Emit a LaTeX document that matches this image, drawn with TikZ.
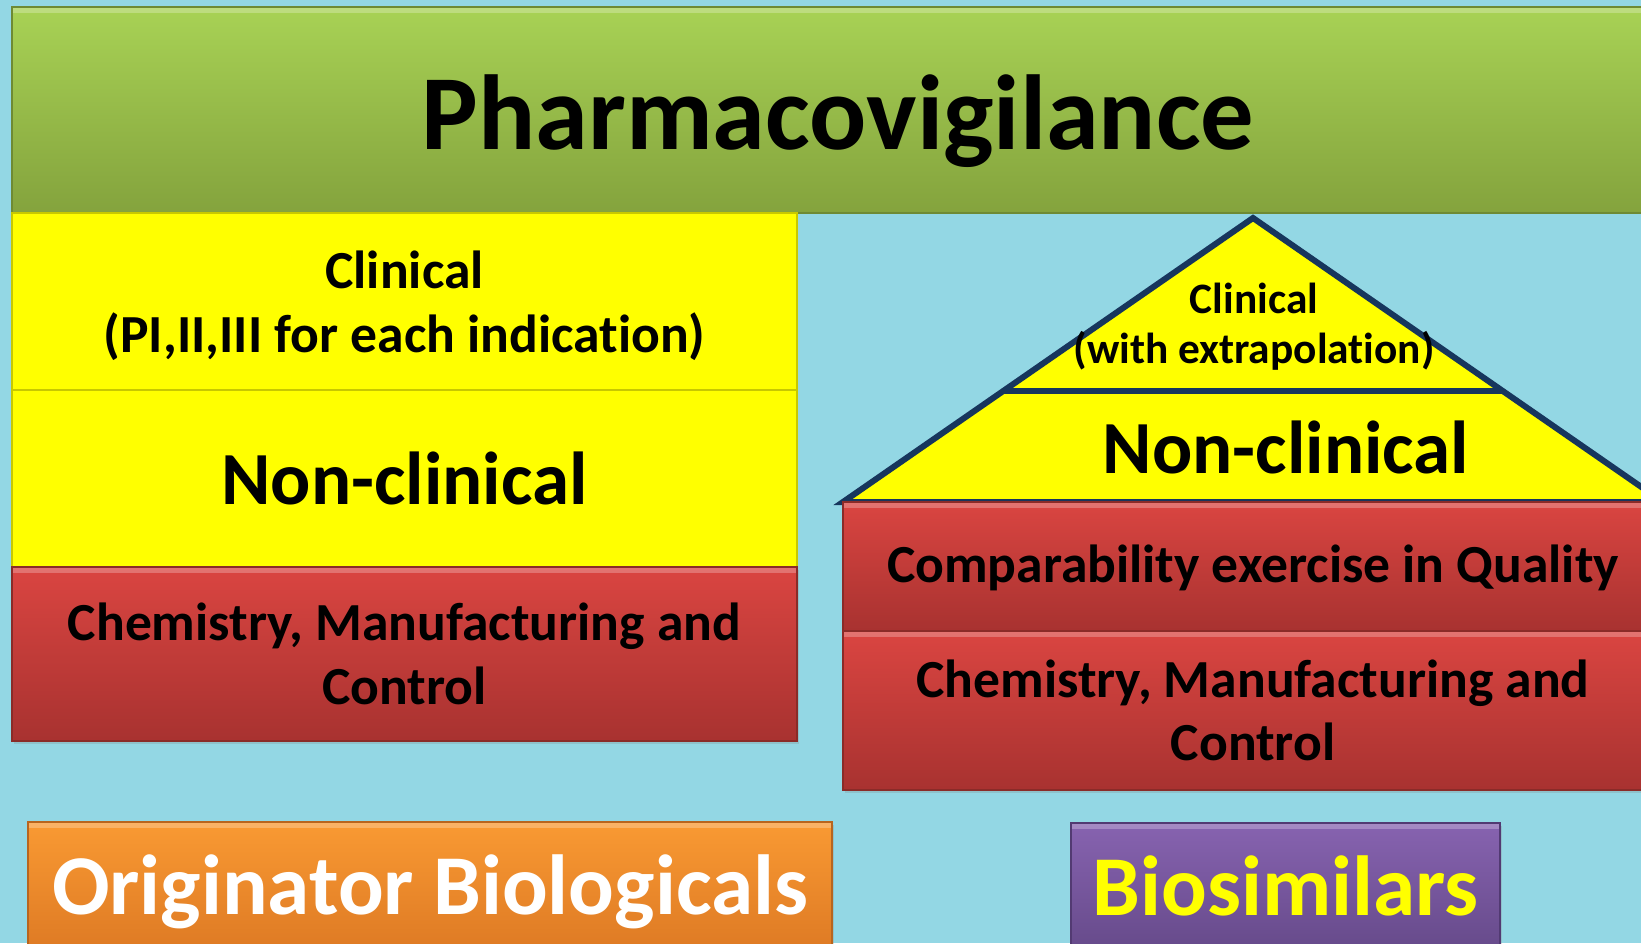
\documentclass[tikz,border=0pt]{standalone}
\usepackage{fontspec}
\setmainfont{Carlito}[Ligatures=NoCommon]
\usepackage{tikz}
\usetikzlibrary{positioning, shadows}

\definecolor{skyblue}{HTML}{93D7E4}
\definecolor{pvgreentop}{HTML}{A8D255}
\definecolor{pvgreenbot}{HTML}{84A33D}
\definecolor{pvgreenedge}{HTML}{6E8A34}
\definecolor{clinyellow}{HTML}{FFFF00}
\definecolor{yellowedge}{HTML}{C8C800}
\definecolor{cmcredtop}{HTML}{DA4541}
\definecolor{cmcredbot}{HTML}{A83230}
\definecolor{rededge}{HTML}{8A2B28}
\definecolor{origorangetop}{HTML}{F99A33}
\definecolor{origorangebot}{HTML}{DE7A24}
\definecolor{orangeedge}{HTML}{B8651E}
\definecolor{biopurpletop}{HTML}{8763B0}
\definecolor{biopurplebot}{HTML}{664A8A}
\definecolor{purpleedge}{HTML}{523A72}
\definecolor{trinavy}{HTML}{17365D}

\begin{document}
\begin{tikzpicture}[
  x=0.5pt, y=0.5pt,
  panel/.style = {inner sep=0pt, outer sep=0pt, align=center, text=black},
  bigtext/.style = {font=\fontsize{53.3}{60}\selectfont\bfseries},
  midtext/.style = {font=\fontsize{37.5}{44}\selectfont\bfseries},
  smalltext/.style = {font=\fontsize{26.8}{31.8}\selectfont\bfseries},
  tinytext/.style = {font=\fontsize{21.7}{25}\selectfont\bfseries},
  % light strip along the top edge, as on a bevelled slab
  bevel/.style = {path picture={
    \fill[white, opacity=0.25] (path picture bounding box.north west)
      rectangle ([yshift=-3pt]path picture bounding box.north east);}},
  greenbar/.style = {panel, bevel, top color=pvgreentop, bottom color=pvgreenbot, draw=pvgreenedge, line width=0.6pt},
  yellowbox/.style = {panel, fill=clinyellow, draw=yellowedge, line width=0.6pt},
  redbox/.style = {panel, bevel, top color=cmcredtop, bottom color=cmcredbot, draw=rededge, line width=0.6pt,
    drop shadow={opacity=0.25, shadow xshift=1pt, shadow yshift=-1.5pt}},
  labelbox/.style = {panel, bevel, line width=0.6pt, minimum height=64pt, text height=31pt, text depth=3pt,
    font=\fontsize{42.6}{50}\selectfont\bfseries,
    drop shadow={opacity=0.25, shadow xshift=1pt, shadow yshift=-1.5pt}},
  tribody/.style = {draw=trinavy, line width=3pt, line join=miter}
]

  % Page and background
  \useasboundingbox (0,0) rectangle (1641,943);
  \clip (0,0) rectangle (1641,943);
  \fill[skyblue] (0,0) rectangle (1641,943);

  % Pyramid on the biosimilar side
  \coordinate (apex) at (1253,725);
  \coordinate (baseL) at (843,441);
  \coordinate (baseR) at (1663,441);
  \coordinate (midL) at (1003,552);
  \coordinate (midR) at (1503,552);
  \filldraw[tribody, fill=clinyellow] (baseL) -- (apex) -- (baseR) -- cycle;
  \draw[tribody] (midL) -- (midR);
  \node[panel, tinytext] (triclin) at (1254,616) {Clinical\\(with extrapolation)};
  \node[panel, midtext] (trinon) at (1286,496) {Non-clinical};

  % Roof
  \node[greenbar, bigtext, text height=45pt, text depth=5pt, minimum width=826pt, minimum height=103pt,
    anchor=north west] (pv) at (12,936) {Pharmacovigilance};

  % Originator stack
  \node[yellowbox, smalltext, text depth=0pt, minimum width=392.5pt, minimum height=88.5pt, anchor=north west]
    (clin) at (pv.south west) {Clinical\\(PI,II,III for each indication)};
  \node[yellowbox, midtext, minimum width=392.5pt, minimum height=88.5pt, below=0pt of clin]
    (nonclin) {Non-clinical};
  \node[redbox, smalltext, minimum width=392.5pt, minimum height=87pt, below=0pt of nonclin]
    (cmc) {Chemistry, Manufacturing and\\Control};

  % Biosimilar stack
  \node[redbox, smalltext, text height=18pt, text depth=2.5pt, minimum width=410pt, minimum height=64.5pt,
    anchor=north west] (compar) at (baseL) {Comparability exercise in Quality};
  \node[redbox, smalltext, minimum width=410pt, minimum height=79.5pt, below=0pt of compar]
    (biocmc) {Chemistry, Manufacturing and\\Control};

  % Labels
  \node[labelbox, top color=origorangetop, bottom color=origorangebot, draw=orangeedge, text=white,
    minimum width=402pt, anchor=north west] (orig) at (28,121) {Originator Biologicals};
  \node[labelbox, top color=biopurpletop, bottom color=biopurplebot, draw=purpleedge, text=clinyellow,
    minimum width=214.5pt, anchor=north west] (bios) at (1071,120) {Biosimilars};

\end{tikzpicture}
\end{document}
